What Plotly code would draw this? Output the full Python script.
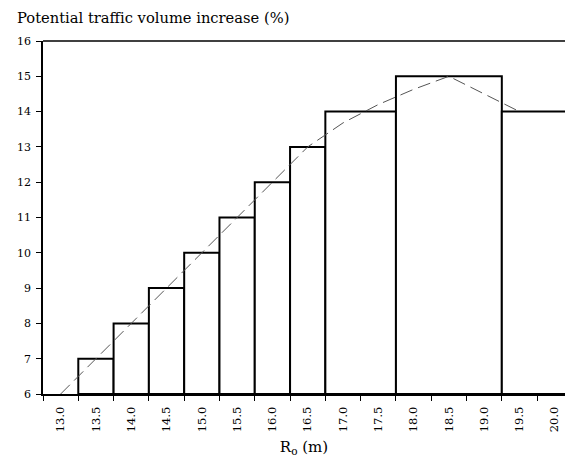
import plotly.graph_objects as go

categories = ["13.0", "13.5", "14.0", "14.5", "15.0", "15.5", "16.0", "16.5",
              "17.0", "17.5", "18.0", "18.5", "19.0", "19.5", "20.0"]

# step bars: starting category, number of categories spanned, value (%)
bar_start = ["13.5", "14.0", "14.5", "15.0", "15.5", "16.0", "16.5", "17.0", "18.0", "19.5"]
bar_span = [1, 1, 1, 1, 1, 1, 1, 2, 3, 2]
bar_value = [7, 8, 9, 10, 11, 12, 13, 14, 15, 14]

# dashed trend line
trend_x = ["13.0", "13.5", "14.0", "14.5", "15.0", "15.5", "16.0", "16.5",
           "17.0", "17.5", "18.0", "18.5", "19.0", "19.5"]
trend_y = [6, 7, 8, 9, 10, 11, 12, 13, 13.68, 14.2, 14.63, 15, 14.5, 14]

BASE = 6
FONT = "DejaVu Serif, Liberation Serif, serif"

fig = go.Figure()
fig.add_trace(go.Bar(
    x=bar_start,
    y=[v - BASE for v in bar_value],
    base=BASE,
    width=bar_span,
    offset=-0.5,
    marker=dict(color="white", line=dict(color="black", width=2)),
    showlegend=False,
    hoverinfo="skip",
))
fig.add_trace(go.Scatter(
    x=trend_x, y=trend_y, mode="lines",
    line=dict(color="#555555", width=1, dash="13px,6px"),
    showlegend=False, hoverinfo="skip",
))

fig.update_layout(
    width=565, height=460,
    margin=dict(l=43, r=0, t=41, b=66, autoexpand=False),
    plot_bgcolor="white", paper_bgcolor="white",
    font=dict(family=FONT, color="black", size=11),
    title=dict(text="Potential traffic volume increase (%)", x=17 / 565, xref="container",
               xanchor="left", y=1 - 18 / 460, yanchor="middle",
               font=dict(family=FONT, size=14.7, color="black")),
    xaxis=dict(type="category", categoryorder="array", categoryarray=categories,
               range=[-0.5, 14.29], tickson="boundaries", ticks="outside", ticklen=5,
               tickcolor="black", tickangle=-90, showline=True, linecolor="black",
               linewidth=2, showgrid=False, zeroline=False, automargin=False,
               tickfont=dict(size=11.5), ticklabelstandoff=6,
               title=dict(text="R<sub>o</sub> (m)", font=dict(size=15), standoff=10)),
    yaxis=dict(range=[6, 16], dtick=1, ticks="outside", ticklen=5, tickcolor="black",
               showline=True, linecolor="black", linewidth=1.5, showgrid=False,
               zeroline=False, automargin=False, tickfont=dict(size=11),
               ticklabelstandoff=3),
    shapes=[dict(type="line", xref="paper", yref="paper", x0=0, x1=1, y0=1, y1=1,
                 line=dict(color="black", width=1.5))],
)

fig.write_html("out.html", config={"displayModeBar": False},
               post_script="document.body.style.margin='0px';document.body.style.padding='0px';")
